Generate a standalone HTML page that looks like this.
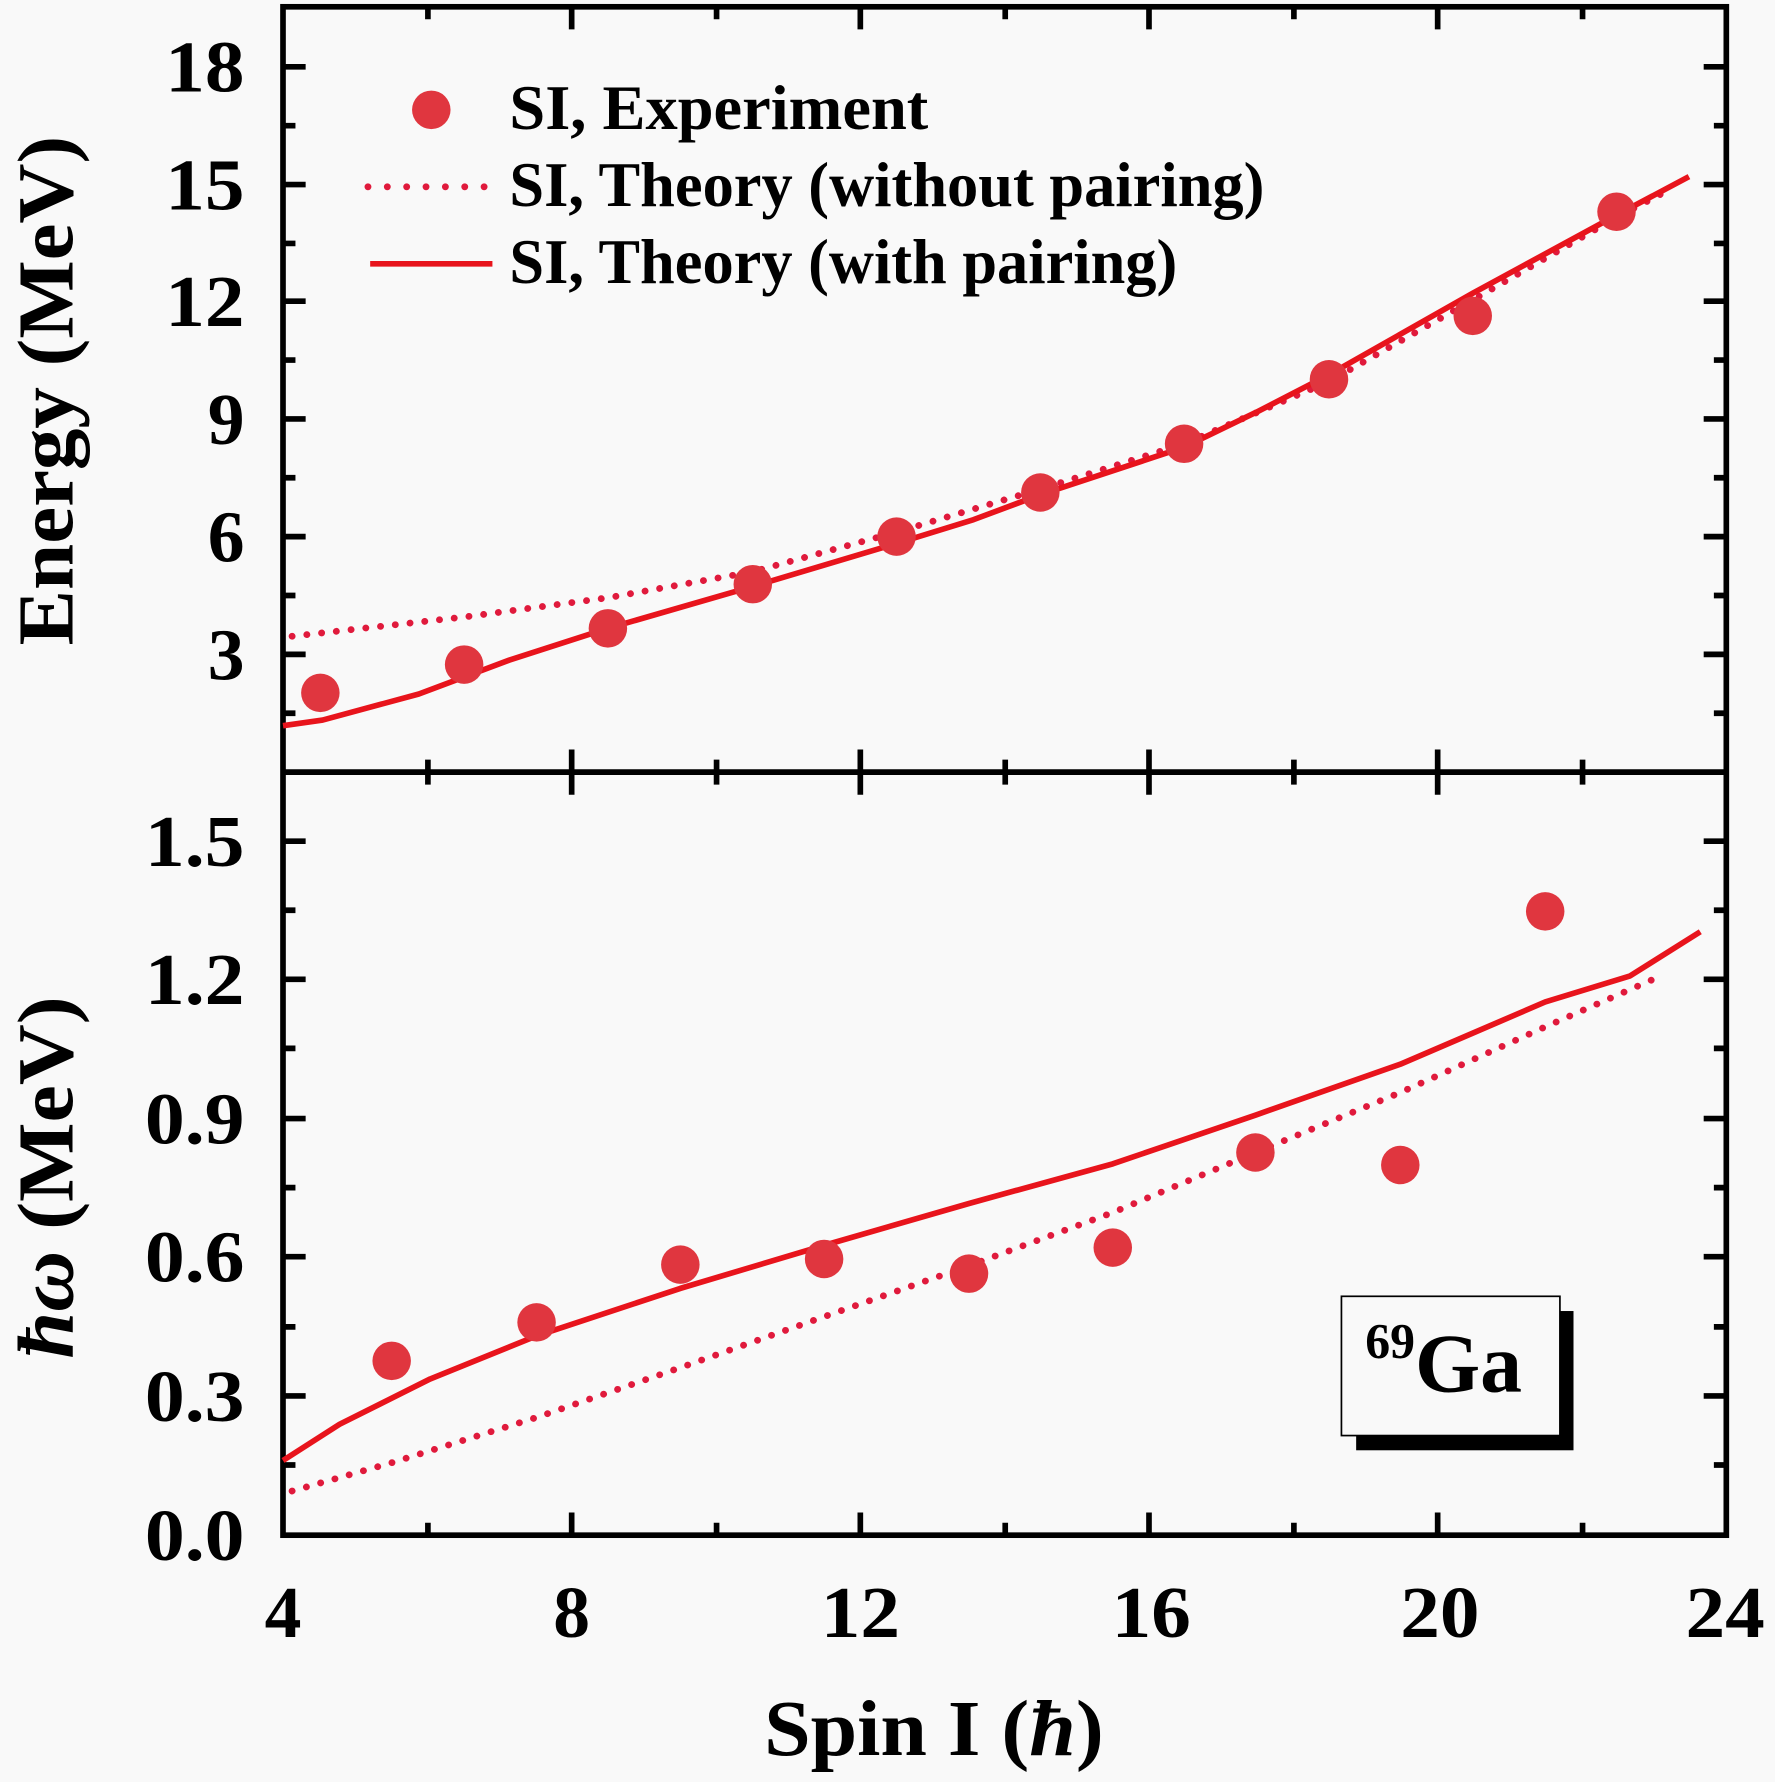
<!DOCTYPE html>
<html><head><meta charset="utf-8"><style>
html,body{margin:0;padding:0;background:#f9f9f9;}
svg{display:block;}
text{font-family:"Liberation Serif",serif;font-weight:bold;fill:#000;}
</style></head><body>
<svg width="1775" height="1782" viewBox="0 0 1568 1574" preserveAspectRatio="none" xmlns="http://www.w3.org/2000/svg">
<rect width="1568" height="1574" fill="#f9f9f9"/>
<g stroke="#000" stroke-width="5" fill="none">
<rect x="250" y="6" width="1275" height="1350"/>
<line x1="250" y1="682" x2="1525" y2="682"/>
<path d="M250 59h20M250 163h20M250 266h20M250 370h20M250 474h20M250 578h20 M1525 59h-20M1525 163h-20M1525 266h-20M1525 370h-20M1525 474h-20M1525 578h-20"/>
<path d="M250 111h11M250 215h11M250 318h11M250 422h11M250 526h11M250 630h11M1525 111h-11M1525 215h-11M1525 318h-11M1525 422h-11M1525 526h-11M1525 630h-11"/>
<path d="M250 743h20M250 865h20M250 988h20M250 1110h20M250 1233h20 M1525 743h-20M1525 865h-20M1525 988h-20M1525 1110h-20M1525 1233h-20"/>
<path d="M250 804h11M250 926h11M250 1049h11M250 1172h11M250 1294h11M1525 804h-11M1525 926h-11M1525 1049h-11M1525 1172h-11M1525 1294h-11"/>
<path d="M505 6v20M760 6v20M1015 6v20M1270 6v20 M378 6v11M633 6v11M888 6v11M1143 6v11M1398 6v11"/>
<path d="M505 662v40M760 662v40M1015 662v40M1270 662v40 M378 671v22M633 671v22M888 671v22M1143 671v22M1398 671v22"/>
<path d="M505 1356v-20M760 1356v-20M1015 1356v-20M1270 1356v-20 M378 1356v-11M633 1356v-11M888 1356v-11M1143 1356v-11M1398 1356v-11"/>
</g>
<g font-size="65" text-anchor="end">
<text x="216" y="81" textLength="70" lengthAdjust="spacingAndGlyphs">18</text>
<text x="216" y="185" textLength="70" lengthAdjust="spacingAndGlyphs">15</text>
<text x="216" y="288" textLength="70" lengthAdjust="spacingAndGlyphs">12</text>
<text x="216" y="392">9</text><text x="216" y="496">6</text><text x="216" y="600">3</text>
<text x="216" y="765" textLength="88" lengthAdjust="spacingAndGlyphs">1.5</text>
<text x="216" y="887" textLength="88" lengthAdjust="spacingAndGlyphs">1.2</text>
<text x="216" y="1010" textLength="88" lengthAdjust="spacingAndGlyphs">0.9</text>
<text x="216" y="1132" textLength="88" lengthAdjust="spacingAndGlyphs">0.6</text>
<text x="216" y="1255" textLength="88" lengthAdjust="spacingAndGlyphs">0.3</text>
<text x="216" y="1378" textLength="88" lengthAdjust="spacingAndGlyphs">0.0</text>
</g>
<g font-size="65" text-anchor="middle">
<text x="250" y="1446">4</text><text x="505" y="1446">8</text>
<text x="760" y="1446" textLength="70" lengthAdjust="spacingAndGlyphs">12</text>
<text x="1017" y="1446" textLength="70" lengthAdjust="spacingAndGlyphs">16</text>
<text x="1272" y="1446" textLength="70" lengthAdjust="spacingAndGlyphs">20</text>
<text x="1524" y="1446" textLength="70" lengthAdjust="spacingAndGlyphs">24</text>
</g>
<text x="675" y="1550" font-size="70" textLength="300" lengthAdjust="spacingAndGlyphs">Spin I (<tspan font-style="italic">ħ</tspan>)</text>
<text transform="translate(64,570) rotate(-90)" font-size="70" textLength="450" lengthAdjust="spacingAndGlyphs">Energy (MeV)</text>
<text transform="translate(64,1200) rotate(-90)" font-size="70" textLength="320" lengthAdjust="spacingAndGlyphs"><tspan font-style="italic">ħω</tspan> (MeV)</text>
<g fill="none" stroke-linejoin="round">
<polyline stroke="#e01a3c" stroke-width="6" stroke-dasharray="0.1 13" stroke-linecap="round" points="258,562 410,545 537,528 665,505 792,470 919,432 1046,392 1174,337 1301,265 1428,192 1470,170"/>
<polyline stroke="#e8141c" stroke-width="5" points="250,641 285,636 370,613 450,583 537,555 665,518 792,480 860,459 919,437 1046,395 1110,364 1174,331 1301,259 1428,190 1492,156"/>
<polyline stroke="#e01a3c" stroke-width="6" stroke-dasharray="0.1 13" stroke-linecap="round" points="258,1317 346,1292 474,1252 601,1208 728,1163 856,1118 983,1071 1109,1018 1237,965 1365,907 1465,863"/>
<polyline stroke="#e8141c" stroke-width="5" points="250,1290 300,1258 380,1218 474,1180 601,1138 728,1100 856,1063 983,1028 1109,985 1237,940 1300,913 1365,885 1440,862 1502,823"/>
</g>
<g fill="#e0363f">
<circle cx="283" cy="612" r="17"/><circle cx="410" cy="587" r="17"/><circle cx="537" cy="555" r="17"/><circle cx="665" cy="516" r="17"/><circle cx="792" cy="474" r="17"/><circle cx="919" cy="435" r="17"/><circle cx="1046" cy="392" r="17"/><circle cx="1174" cy="335" r="17"/><circle cx="1301" cy="279" r="17"/><circle cx="1428" cy="187" r="17"/>
<circle cx="346" cy="1202" r="17"/><circle cx="474" cy="1168" r="17"/><circle cx="601" cy="1117" r="17"/><circle cx="728" cy="1112" r="17"/><circle cx="856" cy="1125" r="17"/><circle cx="983" cy="1102" r="17"/><circle cx="1109" cy="1018" r="17"/><circle cx="1237" cy="1029" r="17"/><circle cx="1365" cy="805" r="17"/>
<circle cx="381" cy="97" r="17"/>
</g>
<line x1="325" y1="165" x2="435" y2="165" stroke="#e01a3c" stroke-width="6" stroke-dasharray="0.1 17" stroke-linecap="round"/>
<line x1="327" y1="233" x2="435" y2="233" stroke="#e8141c" stroke-width="5"/>
<g font-size="56">
<text x="450" y="114" textLength="370" lengthAdjust="spacingAndGlyphs">SI, Experiment</text>
<text x="450" y="182" textLength="667" lengthAdjust="spacingAndGlyphs">SI, Theory (without pairing)</text>
<text x="450" y="250" textLength="590" lengthAdjust="spacingAndGlyphs">SI, Theory (with pairing)</text>
</g>
<rect x="1198" y="1158" width="192" height="123" fill="#000"/>
<rect x="1185" y="1145" width="193" height="123" fill="#f9f9f9" stroke="#000" stroke-width="1.5"/>
<text x="1206" y="1229" font-size="74"><tspan font-size="44" dy="-30">69</tspan><tspan dy="30">Ga</tspan></text>
</svg>
</body></html>
